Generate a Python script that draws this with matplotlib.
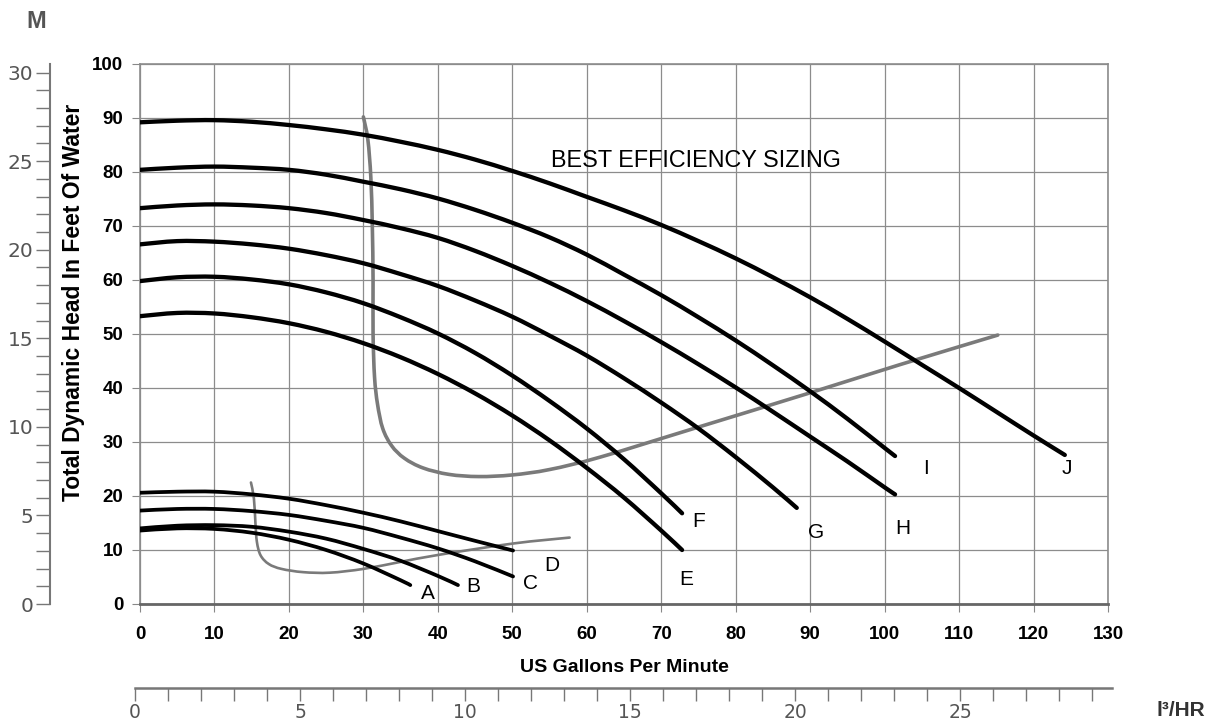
import matplotlib
matplotlib.use("Agg")
import matplotlib.pyplot as plt
from matplotlib.ticker import MultipleLocator
from matplotlib.path import Path
from matplotlib.patches import PathPatch

plt.rcParams["font.family"] = ["Liberation Sans", "DejaVu Sans"]

W, H = 1223, 726

# pump curves (US gpm, feet of head)
a_gpm = [0, 5, 10, 15, 20, 25, 30, 35, 36.3]
a_head = [13.6, 14.0, 13.9, 13.2, 11.9, 10.0, 7.5, 4.4, 3.5]
b_gpm = [0, 5, 10, 15, 20, 25, 30, 35, 40, 42.7]
b_head = [14.0, 14.5, 14.6, 14.3, 13.4, 12.1, 10.2, 8.0, 5.2, 3.5]
c_gpm = [0, 5, 10, 15, 20, 25, 30, 35, 40, 45, 50.1]
c_head = [17.3, 17.6, 17.6, 17.2, 16.5, 15.4, 14.1, 12.3, 10.3, 7.9, 5.1]
d_gpm = [0, 5, 10, 15, 20, 25, 30, 35, 40, 45, 50.1]
d_head = [20.6, 20.8, 20.8, 20.3, 19.5, 18.3, 16.9, 15.3, 13.5, 11.7, 9.9]

e_gpm = [0, 5, 10, 15, 20, 25, 30, 35, 40, 45, 50, 55, 60, 65, 70, 72.8]
e_head = [53.3, 53.9, 53.8, 53.1, 52.0, 50.4, 48.3, 45.7, 42.6, 39.0, 34.9, 30.3, 25.2, 19.7, 13.6, 10.0]
f_gpm = [0, 5, 10, 15, 20, 25, 30, 35, 40, 45, 50, 55, 60, 65, 70, 72.8]
f_head = [59.8, 60.5, 60.6, 60.1, 59.2, 57.7, 55.7, 53.1, 50.1, 46.5, 42.3, 37.6, 32.5, 26.8, 20.5, 16.8]
g_gpm = [0, 5, 10, 15, 20, 25, 30, 35, 40, 45, 50, 55, 60, 65, 70, 75, 80, 85, 88.2]
g_head = [66.6, 67.2, 67.1, 66.6, 65.8, 64.6, 63.1, 61.1, 58.9, 56.2, 53.2, 49.7, 46.0, 41.8, 37.3, 32.5, 27.2, 21.6, 17.8]
h_gpm = [0, 5, 10, 15, 20, 25, 30, 35, 40, 45, 50, 55, 60, 65, 70, 75, 80, 85, 90, 95, 100, 101.4]
h_head = [73.3, 73.8, 74.0, 73.8, 73.3, 72.4, 71.1, 69.6, 67.8, 65.4, 62.6, 59.5, 56.1, 52.4, 48.5, 44.4, 40.1, 35.6, 31.0, 26.4, 21.6, 20.3]
i_gpm = [0, 5, 10, 15, 20, 25, 30, 35, 40, 45, 50, 55, 60, 65, 70, 75, 80, 85, 90, 95, 100, 101.4]
i_head = [80.4, 80.8, 81.0, 80.8, 80.4, 79.5, 78.2, 76.8, 75.1, 73.0, 70.6, 67.9, 64.7, 61.0, 57.2, 53.1, 48.8, 44.2, 39.4, 34.3, 28.9, 27.4]
j_gpm = [0, 5, 10, 15, 20, 25, 30, 35, 40, 45, 50, 55, 60, 65, 70, 75, 80, 85, 90, 95, 100, 105, 110, 115, 120, 124.2]
j_head = [89.2, 89.5, 89.6, 89.3, 88.7, 87.9, 86.9, 85.6, 84.1, 82.3, 80.2, 77.9, 75.4, 72.9, 70.2, 67.2, 64.0, 60.5, 56.8, 52.8, 48.6, 44.3, 40.0, 35.6, 31.2, 27.6]

# best efficiency lines (grey)
eff_big_gpm = [30.0, 30.6, 31.0, 31.2, 31.3, 31.3, 31.5, 31.9, 32.6, 33.8, 35.5, 38.0, 41.5,
               45.5, 50.0, 55.0, 61.8, 73.9, 89.5, 102.0, 115.2]
eff_big_head = [90.2, 86.0, 79.0, 70.0, 60.0, 50.0, 42.0, 37.0, 32.5, 29.3, 27.0, 25.2, 24.0,
                23.6, 23.9, 24.9, 27.2, 32.3, 38.9, 44.3, 49.8]
eff_small_gpm = [14.9, 15.3, 15.5, 15.7, 16.2, 17.3, 19.0, 21.9, 25.5, 30.0, 35.0, 40.1, 50.1, 57.7]
eff_small_head = [22.5, 19.5, 15.0, 11.5, 9.0, 7.4, 6.5, 5.9, 5.8, 6.5, 7.8, 9.1, 11.2, 12.3]

curve_names = ["A", "B", "C", "D", "E", "F", "G", "H", "I", "J"]
label_gpm = [38.6, 44.8, 52.4, 55.3, 73.3, 75.0, 90.8, 102.5, 105.6, 124.5]
label_head = [2.0, 3.2, 3.8, 7.2, 4.6, 15.2, 13.2, 14.0, 25.1, 25.1]

gpm_ticks = list(range(0, 131, 10))
head_ticks = list(range(0, 101, 10))
m_ticks = [0, 5, 10, 15, 20, 25, 30]
m3_ticks = [0, 5, 10, 15, 20, 25]


def smooth_line(ax, xs, ys, **kw):
    # catmull-rom through the read points, drawn as bezier segments
    pts = list(zip(xs, ys))
    ext = [pts[0]] + pts + [pts[-1]]
    verts = [pts[0]]
    codes = [Path.MOVETO]
    for k in range(1, len(ext) - 2):
        p0, p1, p2, p3 = ext[k - 1], ext[k], ext[k + 1], ext[k + 2]
        c1 = (p1[0] + (p2[0] - p0[0]) / 6, p1[1] + (p2[1] - p0[1]) / 6)
        c2 = (p2[0] - (p3[0] - p1[0]) / 6, p2[1] - (p3[1] - p1[1]) / 6)
        verts += [c1, c2, p2]
        codes += [Path.CURVE4] * 3
    patch = PathPatch(Path(verts, codes), fill=False, capstyle="round", joinstyle="round", **kw)
    ax.add_patch(patch)


fig = plt.figure(figsize=(W / 100, H / 100), dpi=100)
ax = fig.add_axes([140 / W, 1 - 604 / H, 968 / W, 540 / H])

ax.set_xlim(0, 130)
ax.set_ylim(0, 100)
ax.set_xticks(gpm_ticks)
ax.set_yticks(head_ticks)
ax.grid(True, color="#8c8c8c", lw=0.9)
ax.set_axisbelow(True)
for s in ax.spines.values():
    s.set_color("#8c8c8c")
    s.set_linewidth(1.2)
ax.spines["bottom"].set_color("#666666")
ax.spines["bottom"].set_linewidth(2)
ax.tick_params(axis="x", length=6, color="#888888", pad=10, labelsize=13.5)
ax.tick_params(axis="y", length=6, color="#888888", pad=6, labelsize=13.5)
for lbl in ax.get_xticklabels() + ax.get_yticklabels():
    lbl.set_fontweight("bold")

small = [(a_gpm, a_head), (b_gpm, b_head), (c_gpm, c_head), (d_gpm, d_head)]
big = [(e_gpm, e_head), (f_gpm, f_head), (g_gpm, g_head), (h_gpm, h_head),
       (i_gpm, i_head), (j_gpm, j_head)]

smooth_line(ax, eff_big_gpm, eff_big_head, edgecolor="#7a7a7a", lw=2.6, zorder=2)
smooth_line(ax, eff_small_gpm, eff_small_head, edgecolor="#7a7a7a", lw=1.9, zorder=2)
for x, y in small:
    smooth_line(ax, x, y, edgecolor="black", lw=2.7, zorder=3)
for x, y in big:
    smooth_line(ax, x, y, edgecolor="black", lw=3.1, zorder=3)

for name, x, y in zip(curve_names, label_gpm, label_head):
    ax.text(x, y, name, fontsize=15, ha="center", va="center")

ax.text(55.2, 82.2, "BEST EFFICIENCY SIZING", fontsize=16.8, ha="left", va="center")

# metres scale on the left
axm = fig.add_axes([50 / W, 1 - 604 / H, 0.0001, 540 / H])
axm.set_ylim(0, 100 / 3.2808)
axm.set_yticks(m_ticks)
axm.yaxis.set_minor_locator(MultipleLocator(1))
axm.set_xticks([])
axm.patch.set_visible(False)
for k in ["top", "right", "bottom"]:
    axm.spines[k].set_visible(False)
axm.spines["left"].set_color("#777777")
axm.spines["left"].set_linewidth(1.5)
axm.tick_params(axis="y", which="both", length=10, width=1, color="#777777",
                labelsize=14.5, labelcolor="#555555", pad=2)
for lbl in axm.get_yticklabels():
    lbl.set_family("DejaVu Sans")

# cubic metres per hour scale at the bottom
axb = fig.add_axes([135 / W, 1 - 688 / H, 977 / W, 0.0001])
axb.set_xlim(0, 29.6)
axb.set_xticks(m3_ticks)
axb.xaxis.set_minor_locator(MultipleLocator(1))
axb.set_yticks([])
axb.patch.set_visible(False)
for k in ["top", "right", "left"]:
    axb.spines[k].set_visible(False)
axb.spines["bottom"].set_color("#777777")
axb.spines["bottom"].set_linewidth(1.8)
axb.tick_params(axis="x", which="both", length=9, width=1, color="#777777",
                labelsize=13.5, labelcolor="#555555", pad=2)
for lbl in axb.get_xticklabels():
    lbl.set_family("DejaVu Sans")

fig.text(36 / W, 1 - 22 / H, "M", fontsize=17, fontweight="bold", color="#555555",
         ha="center", va="center", family=["Liberation Sans Narrow", "Liberation Sans"])
fig.text(74 / W, 1 - 302 / H, "Total Dynamic Head In Feet Of Water", rotation=90,
         fontsize=16.5, fontweight="bold", ha="center", va="center")
fig.text(624 / W, 1 - 668 / H, "US Gallons Per Minute", fontsize=14, fontweight="bold",
         ha="center", va="center")
fig.text(1157 / W, 1 - 710 / H, "l³/HR", fontsize=15, fontweight="bold", color="#333333",
         ha="left", va="center")

fig.savefig("out.png", dpi=100)
